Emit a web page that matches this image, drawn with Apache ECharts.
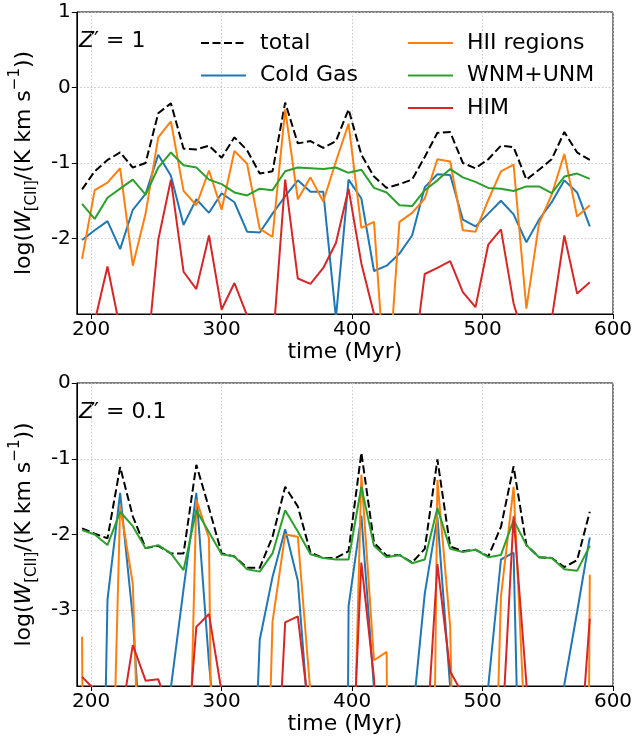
<!DOCTYPE html>
<html><head><meta charset="utf-8">
<script src="https://cdn.jsdelivr.net/npm/echarts@6/dist/echarts.min.js"></script>
<style>html,body{margin:0;padding:0;background:#fff}#c{width:637px;height:739px}</style>
</head><body><div id="c"></div>
<script>
// time of each snapshot (Myr)
const times = [193.0,202.7,212.5,222.2,231.9,241.7,251.4,261.1,270.8,280.6,290.3,300.0,309.8,319.5,329.2,339.0,348.7,358.4,368.1,377.9,387.6,397.3,407.1,416.8,426.5,436.3,446.0,455.7,465.4,475.2,484.9,494.6,504.4,514.1,523.8,533.6,543.3,553.0,562.7,572.5,582.2];

// Z' = 1 panel
const total1 = [-1.35,-1.11,-0.96,-0.86,-1.06,-1.00,-0.34,-0.21,-0.81,-0.82,-0.77,-0.93,-0.66,-0.83,-1.14,-1.11,-0.20,-0.74,-0.71,-0.80,-0.71,-0.29,-0.89,-1.18,-1.33,-1.28,-1.22,-0.92,-0.60,-0.59,-1.00,-1.07,-0.95,-0.77,-0.79,-1.22,-1.09,-0.95,-0.59,-0.86,-0.96];
const cold1  = [-2.02,-1.89,-1.77,-2.14,-1.62,-1.41,-0.89,-1.17,-1.82,-1.48,-1.66,-1.40,-1.52,-1.91,-1.92,-1.67,-1.44,-1.23,-1.38,-1.38,-3.05,-1.22,-1.47,-2.43,-2.36,-2.20,-1.96,-1.32,-1.15,-1.16,-1.75,-1.84,-1.67,-1.50,-1.68,-2.05,-1.75,-1.52,-1.23,-1.39,-1.84];
const hii1   = [-2.27,-1.36,-1.26,-1.07,-2.36,-1.67,-0.66,-0.45,-1.37,-1.56,-1.10,-1.62,-0.84,-1.01,-1.87,-1.98,-0.29,-1.48,-1.19,-1.51,-0.98,-0.48,-1.86,-1.78,-4.20,-1.78,-1.66,-1.47,-0.95,-0.98,-1.89,-1.91,-1.49,-1.11,-1.02,-2.93,-1.80,-1.42,-0.88,-1.71,-1.56];
const wnm1   = [-1.54,-1.74,-1.46,-1.34,-1.22,-1.42,-1.06,-0.86,-1.03,-1.06,-1.22,-1.28,-1.39,-1.43,-1.34,-1.36,-1.11,-1.06,-1.07,-1.08,-1.06,-1.13,-1.09,-1.33,-1.39,-1.56,-1.57,-1.36,-1.23,-1.08,-1.19,-1.25,-1.33,-1.34,-1.37,-1.31,-1.31,-1.40,-1.18,-1.14,-1.21];
const him1   = [-3.50,-3.10,-2.37,-3.20,-3.50,-3.77,-2.02,-1.22,-2.44,-2.67,-1.96,-2.94,-2.59,-3.02,-3.50,-3.45,-1.22,-2.53,-2.60,-2.39,-2.06,-1.34,-2.33,-3.00,-3.60,-3.90,-3.78,-2.47,-2.39,-2.30,-2.71,-2.91,-2.08,-1.88,-2.86,-3.42,-3.70,-3.07,-1.96,-2.73,-2.58];

// Z' = 0.1 panel
const total2 = [-1.92,-1.99,-2.05,-1.11,-1.76,-2.18,-2.15,-2.25,-2.25,-1.08,-1.65,-2.25,-2.29,-2.44,-2.44,-2.03,-1.37,-1.63,-2.24,-2.31,-2.31,-2.22,-0.92,-2.11,-2.28,-2.27,-2.37,-2.19,-1.01,-2.16,-2.22,-2.20,-2.29,-1.90,-1.10,-2.14,-2.30,-2.31,-2.43,-2.34,-1.70];
const cold2  = [-12,-11.6,-2.86,-1.45,-3.10,-5.8,-12,-4.02,-2.72,-1.45,-3.70,-5.4,-12,-7.7,-3.39,-2.56,-1.93,-2.61,-4.78,-12,-30,-2.95,-1.75,-4.03,-12,-12,-4.48,-2.78,-1.77,-4.02,-12,-12,-4.00,-2.33,-2.24,-9.6,-12,-12,-3.98,-3.02,-2.04];
const hii2   = [-3.35,-30,-8,-1.62,-2.65,-8,-12,-12,-8.4,-1.54,-2.05,-17,-12,-12,-9.2,-3.15,-2.00,-2.03,-4.10,-12,-12,-7.7,-1.21,-3.66,-3.55,-30,-12,-16,-1.28,-3.22,-11,-12,-8.7,-2.82,-1.37,-5.0,-12,-12,-12,-30,-2.53];
const wnm2   = [-1.94,-2.00,-2.14,-1.70,-1.89,-2.18,-2.14,-2.25,-2.47,-1.68,-1.97,-2.26,-2.29,-2.46,-2.49,-2.25,-1.68,-1.96,-2.26,-2.31,-2.33,-2.33,-1.37,-2.15,-2.30,-2.27,-2.38,-2.33,-1.65,-2.19,-2.23,-2.20,-2.30,-2.27,-1.81,-2.14,-2.30,-2.31,-2.46,-2.48,-2.15];
const him2   = [-3.88,-4.05,-8,-4.5,-3.46,-3.93,-3.91,-4.4,-5.4,-3.22,-3.05,-4.08,-8,-8,-8,-6.4,-3.16,-3.08,-4.51,-8,-8,-6.2,-2.37,-3.90,-8,-8,-8,-5.1,-2.39,-3.81,-4.11,-8,-8,-4.9,-1.76,-3.96,-8,-8,-8,-5.4,-3.11];

const xTicks = [200,300,400,500,600];
const yTicks1 = [1,0,-1,-2];
const yTicks2 = [0,-1,-2,-3];
const names = ['total','Cold Gas','HII regions','WNM+UNM','HIM'];
const colors = ['#000000','#1f77b4','#ff7f0e','#2ca02c','#d62728'];

const FONT = 'DejaVu Sans';
const pair = arr => arr.map((v,i)=>[times[i], v]);

function xAxis(idx){
  return {
    type:'value', gridIndex: idx, min:189, max:600,
    name:'time (Myr)', nameLocation:'middle', nameGap:27,
    nameTextStyle:{fontFamily:FONT,fontSize:22,color:'#000'},
    axisLine:{show:true,onZero:false,lineStyle:{color:'#000',width:1}},
    axisTick:{show:true,length:5,customValues:xTicks,lineStyle:{color:'#000',width:1}},
    axisLabel:{customValues:xTicks,fontFamily:FONT,fontSize:20,color:'#000',margin:6},
    splitLine:{show:true,lineStyle:{color:'#c8c8c8',type:[1.5,2],width:1}}
  };
}
function yAxis(idx, mn, mx, ticks){
  return {
    type:'value', gridIndex: idx, min:mn, max:mx, interval:1,
    name:'{n|log(}{i|W}{s|[CII]}{n|/(K km s}{p|−1}{n|))}',
    nameLocation:'middle', nameRotate:90, nameGap:30,
    nameTextStyle:{fontFamily:FONT,color:'#000',rich:{
      n:{fontFamily:FONT,fontSize:22,lineHeight:32,color:'#000'},
      i:{fontFamily:FONT,fontSize:22,lineHeight:32,fontStyle:'italic',color:'#000'},
      s:{fontFamily:FONT,fontSize:15,lineHeight:15,verticalAlign:'bottom',color:'#000'},
      p:{fontFamily:FONT,fontSize:15,lineHeight:15,verticalAlign:'top',color:'#000'}
    }},
    axisLine:{show:true,onZero:false,lineStyle:{color:'#000',width:1}},
    axisTick:{show:true,length:5,customValues:ticks,lineStyle:{color:'#000',width:1}},
    axisLabel:{customValues:ticks,fontFamily:FONT,fontSize:20,color:'#000',margin:6,
      formatter:v=>String(v)},
    splitLine:{show:true,lineStyle:{color:'#c8c8c8',type:[1.5,2],width:1}}
  };
}

const panels = [[total1,cold1,hii1,wnm1,him1],[total2,cold2,hii2,wnm2,him2]];
const series = [];
panels.forEach((arrs, p)=>{
  arrs.forEach((arr, k)=>{
    series.push({
      name:names[k], type:'line', xAxisIndex:p, yAxisIndex:p,
      data:pair(arr), symbol:'none', clip:true, animation:false,
      lineStyle:{color:colors[k], width:2, type: k===0?[8,3.5]:'solid'},
      itemStyle:{color:colors[k]}, z: 2+k
    });
  });
});

const legendText = {fontFamily:FONT,fontSize:22,color:'#000',padding:[0,0,0,9],lineHeight:20};
const legendCommon = {top:27, orient:'vertical', itemWidth:45, itemHeight:14, itemGap:10.5,
  textStyle:legendText, selectedMode:false, itemStyle:{opacity:0, borderWidth:0}};
const option = {
  backgroundColor:'#fff',
  animation:false,
  grid:[
    {left:66, top:12, width:547, height:302, show:true, borderColor:'#000', borderWidth:1, backgroundColor:'transparent'},
    {left:66, top:383, width:547, height:303, show:true, borderColor:'#000', borderWidth:1, backgroundColor:'transparent'}
  ],
  xAxis:[xAxis(0), xAxis(1)],
  yAxis:[yAxis(0,-3,1,yTicks1), yAxis(1,-4,0,yTicks2)],
  legend:[
    Object.assign({left:195, data:['total','Cold Gas']}, legendCommon),
    Object.assign({left:402, data:['HII regions','WNM+UNM','HIM']}, legendCommon)
  ],
  graphic:[
    {type:'text', left:79, top:30, style:{text:'{i|Z}{n|′ = 1}', rich:{
      i:{fontFamily:FONT,fontSize:22,fontStyle:'italic',fill:'#000'},
      n:{fontFamily:FONT,fontSize:22,fill:'#000'}}}},
    {type:'text', left:79, top:401, style:{text:'{i|Z}{n|′ = 0.1}', rich:{
      i:{fontFamily:FONT,fontSize:22,fontStyle:'italic',fill:'#000'},
      n:{fontFamily:FONT,fontSize:22,fill:'#000'}}}}
  ],
  series
};
const chart = echarts.init(document.getElementById('c'), null, {renderer:'canvas'});
chart.setOption(option);
</script></body></html>
